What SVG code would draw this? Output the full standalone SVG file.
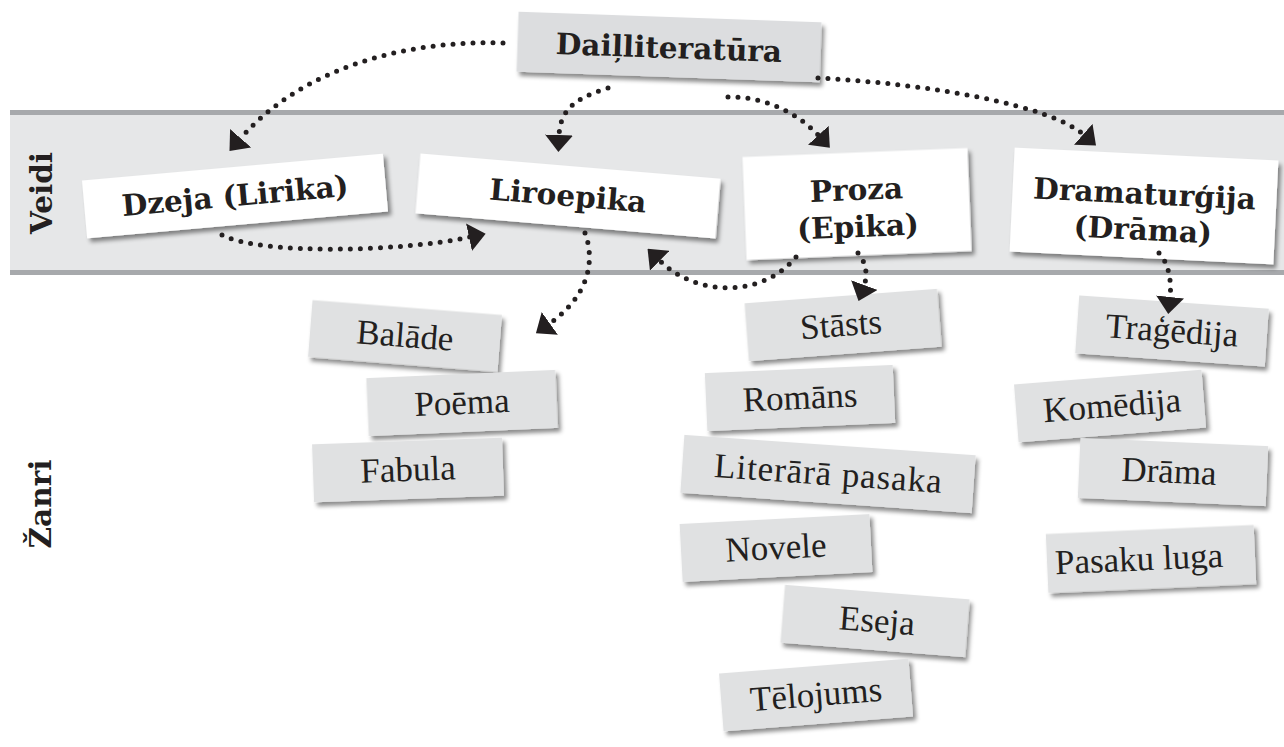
<svg xmlns="http://www.w3.org/2000/svg" width="1284" height="747" viewBox="0 0 1284 747">
<defs>
<filter id="sh" x="-10%" y="-20%" width="125%" height="150%">
<feDropShadow dx="3" dy="4" stdDeviation="2.2" flood-color="#000" flood-opacity="0.45"/>
</filter>
<marker id="ah" viewBox="0 0 17 28" refX="1" refY="14" markerWidth="17" markerHeight="28" markerUnits="userSpaceOnUse" orient="auto">
<path d="M0,0 L17,14 L0,28 z" fill="#231f20"/>
</marker>
</defs>
<style>
.band{fill:#e6e7e8}
.bline{fill:#a7a9ac}
.main{fill:#ffffff;filter:url(#sh)}
.top{fill:#dcdddf;filter:url(#sh)}
.gen{fill:#e0e1e2;filter:url(#sh)}
.bt{font-family:"DejaVu Serif","Liberation Serif",serif;font-weight:bold;font-size:29.5px;fill:#231f20;text-anchor:middle}
.gt{font-family:"Liberation Serif","DejaVu Serif",serif;font-size:35px;fill:#231f20;text-anchor:middle}
.con{fill:none;stroke:#231f20;stroke-width:5;stroke-linecap:round;stroke-dasharray:0 10;marker-end:url(#ah)}
</style>
<rect width="1284" height="747" fill="#ffffff"/>
<g id="band">
<rect class="band" x="10" y="112" width="1274" height="161"/>
<rect class="bline" x="10" y="110" width="1274" height="5"/>
<rect class="bline" x="10" y="270" width="1274" height="5"/>
</g>
<g id="label-veidi"><text class="bt" transform="translate(52,193) rotate(-90)">Veidi</text></g>
<g id="label-zanri"><text class="bt" transform="translate(51,504) rotate(-90)">Žanri</text></g>

<g id="dailliteratura" transform="translate(669,47) rotate(2)">
<rect class="top" x="-151.5" y="-30" width="303" height="60"/>
<text class="bt" x="0" y="11">Daiļliteratūra</text>
</g>
<g id="dzeja" transform="translate(235,196) rotate(-5.1)">
<rect class="main" x="-151" y="-29" width="302" height="58"/>
<text class="bt" x="0" y="10">Dzeja (Lirika)</text>
</g>
<g id="liroepika" transform="translate(568,196) rotate(4.8)">
<rect class="main" x="-150.5" y="-30" width="301" height="60"/>
<text class="bt" x="0" y="10">Liroepika</text>
</g>
<g id="proza" transform="translate(857,204) rotate(-2.3)">
<rect class="main" x="-112.5" y="-51.5" width="225" height="103"/>
<text class="bt" x="0" y="-4">Proza</text>
<text class="bt" x="0" y="33">(Epika)</text>
</g>
<g id="dramaturgija" transform="translate(1144,206) rotate(2.8)">
<rect class="main" x="-132" y="-52" width="264" height="104"/>
<text class="bt" x="0" y="-2">Dramaturģija</text>
<text class="bt" x="0" y="34">(Drāma)</text>
</g>

<g id="balade" transform="translate(405,336) rotate(4.5)"><rect class="gen" x="-95" y="-28.5" width="190" height="57"/><text class="gt" x="0" y="11">Balāde</text></g>
<g id="poema" transform="translate(462,403) rotate(-2.5)"><rect class="gen" x="-94.5" y="-29" width="189" height="58"/><text class="gt" x="0" y="11">Poēma</text></g>
<g id="fabula" transform="translate(408,470) rotate(-2)"><rect class="gen" x="-95" y="-29" width="190" height="58"/><text class="gt" x="0" y="11">Fabula</text></g>
<g id="stasts" transform="translate(843,325) rotate(-4.3)"><rect class="gen" x="-96.5" y="-29" width="193" height="58"/><text class="gt" x="-2" y="11">Stāsts</text></g>
<g id="romans" transform="translate(800,398) rotate(-2.5)"><rect class="gen" x="-94" y="-29" width="188" height="58"/><text class="gt" x="0" y="11">Romāns</text></g>
<g id="literara-pasaka" transform="translate(828,474) rotate(4)"><rect class="gen" x="-146" y="-29" width="292" height="58"/><text class="gt" x="0" y="11" textLength="228" lengthAdjust="spacing">Literārā pasaka</text></g>
<g id="novele" transform="translate(776,548) rotate(-3)"><rect class="gen" x="-95" y="-29" width="190" height="58"/><text class="gt" x="0" y="11">Novele</text></g>
<g id="eseja" transform="translate(875,621) rotate(4.5)"><rect class="gen" x="-92.5" y="-29" width="185" height="58"/><text class="gt" x="2" y="11">Eseja</text></g>
<g id="telojums" transform="translate(816,695) rotate(-4.5)"><rect class="gen" x="-95" y="-29" width="190" height="58"/><text class="gt" x="0" y="11">Tēlojums</text></g>
<g id="tragedija" transform="translate(1172,331) rotate(4)"><rect class="gen" x="-95" y="-29" width="190" height="58"/><text class="gt" x="0" y="11">Traģēdija</text></g>
<g id="komedija" transform="translate(1110,406) rotate(-4.5)"><rect class="gen" x="-94" y="-29" width="188" height="58"/><text class="gt" x="2" y="11">Komēdija</text></g>
<g id="drama" transform="translate(1173,472) rotate(2.5)"><rect class="gen" x="-94" y="-30" width="188" height="60"/><text class="gt" x="-4" y="11">Drāma</text></g>
<g id="pasaku-luga" transform="translate(1151,559) rotate(-2.5)"><rect class="gen" x="-104" y="-29.5" width="208" height="59"/><text class="gt" x="-12" y="11">Pasaku luga</text></g>

<g id="connectors">
<path class="con" d="M503,43 C400,40 300,70 240,139"/>
<path class="con" d="M608,88 C575,98 560,110 559,136"/>
<path class="con" d="M728,97 C760,96 795,110 819,136"/>
<path class="con" d="M818,78 C930,84 1050,105 1084,135"/>
<path class="con" d="M222,235 C260,255 400,252 470,237"/>
<path class="con" d="M796,257 C765,295 700,300 659,260"/>
<path class="con" d="M585,233 C595,260 590,295 549,324"/>
<path class="con" d="M858,253 C866,262 868,275 864,286"/>
<path class="con" d="M1159,253 C1168,262 1172,280 1170,298"/>
</g>
</svg>
